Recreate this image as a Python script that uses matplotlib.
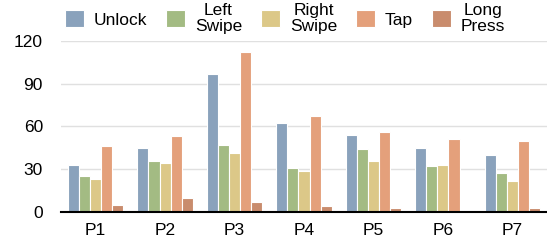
import numpy as np
import matplotlib
matplotlib.use("Agg")
import matplotlib.pyplot as plt

plt.rcParams["font.family"] = ["Liberation Sans", "DejaVu Sans"]

participants = ["P1", "P2", "P3", "P4", "P5", "P6", "P7"]
gestures = ["Unlock", "Left\nSwipe", "Right\nSwipe", "Tap", "Long\nPress"]
unlock = [33, 45, 97, 62, 54, 45, 40]
left_swipe = [25, 36, 47, 31, 44, 32, 27]
right_swipe = [23, 34, 41, 29, 36, 33, 22]
tap = [46, 53, 112, 67, 56, 51, 50]
long_press = [5, 10, 7, 4, 3, 1, 3]
colors = ["#8aa2bc", "#a3bb83", "#dcc888", "#e4a07b", "#c98c6d"]

series = [unlock, left_swipe, right_swipe, tap, long_press]

fig = plt.figure(figsize=(5.47, 2.43), dpi=100)
ax = fig.add_axes([0.1115, 0.1276, 0.8885, 0.705])

x = np.arange(len(participants))
width = 0.16
for i, (vals, lab, col) in enumerate(zip(series, gestures, colors)):
    ax.bar(x + (i - 2) * width, vals, width, color=col, edgecolor="white",
           linewidth=0.8, label=lab, zorder=2)

ax.set_xlim(-0.5, len(participants) - 0.5)
ax.set_ylim(0, 120)
ax.set_yticks([0, 30, 60, 90, 120])
ax.set_xticks(x)
ax.set_xticklabels(participants)
ax.tick_params(axis="both", length=0, labelsize=12.5)
ax.tick_params(axis="y", pad=13)
ax.tick_params(axis="x", pad=8)
ax.grid(axis="y", color="#e0e0e0", linewidth=1, zorder=0)
ax.set_axisbelow(True)
for s in ["left", "right", "top"]:
    ax.spines[s].set_visible(False)
ax.spines["bottom"].set_linewidth(1.5)
ax.spines["bottom"].set_zorder(3)

leg = fig.legend(loc="upper center", bbox_to_anchor=(0.521, 1.05), ncol=5,
                 frameon=False, fontsize=12.5, handlelength=1.1, handleheight=1.15,
                 handletextpad=0.55, columnspacing=1.1, labelspacing=0.2)
for t in leg.get_texts():
    t.set_multialignment("center")
    t.set_linespacing(1.02)

fig.savefig("out.png", dpi=100)
